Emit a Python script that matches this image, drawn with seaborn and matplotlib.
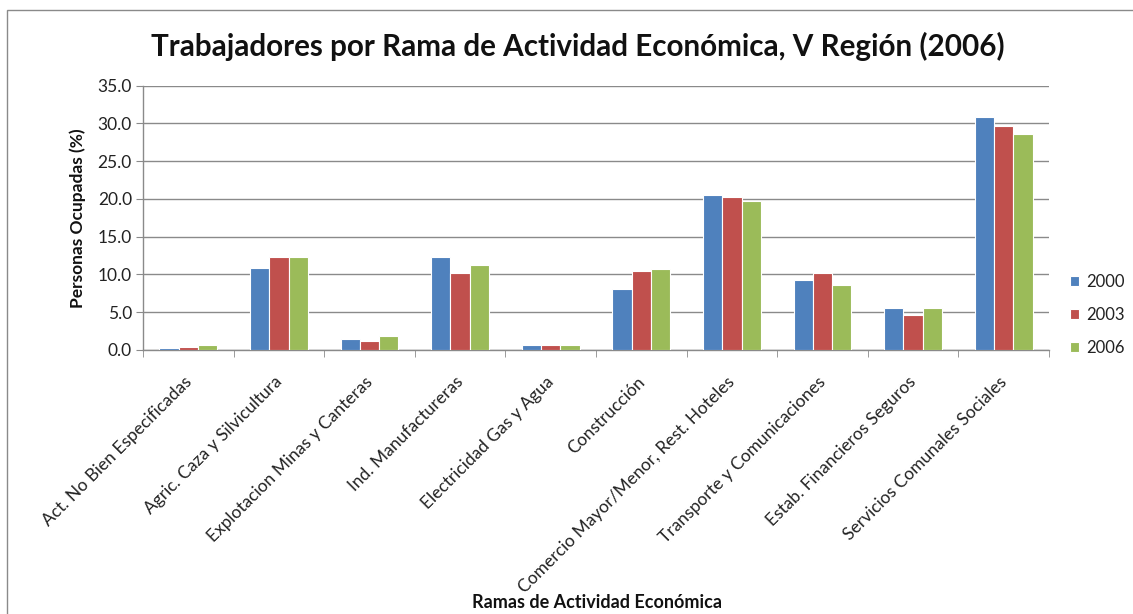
import pandas as pd
import numpy as np
import seaborn as sns
import matplotlib.pyplot as plt
from matplotlib.ticker import FormatStrFormatter, FixedLocator
from matplotlib.patches import Rectangle
from matplotlib.transforms import ScaledTranslation

ramas = ['Act. No Bien Especificadas', 'Agric. Caza y Silvicultura',
         'Explotacion Minas y Canteras', 'Ind. Manufactureras',
         'Electricidad Gas y Agua', 'Construcción',
         'Comercio Mayor/Menor, Rest. Hoteles', 'Transporte y Comunicaciones',
         'Estab. Financieros Seguros', 'Servicios Comunales Sociales']
years = ['2000', '2003', '2006']
v2000 = [0.2, 10.9, 1.4, 12.3, 0.6, 8.1, 20.5, 9.3, 5.6, 30.9]
v2003 = [0.4, 12.3, 1.2, 10.2, 0.6, 10.4, 20.3, 10.2, 4.6, 29.6]
v2006 = [0.7, 12.3, 1.8, 11.2, 0.6, 10.7, 19.7, 8.6, 5.6, 28.6]
colores = ['#4F81BD', '#C0504D', '#9BBB59']

# long format for seaborn
df = pd.DataFrame({
    'rama': ramas * 3,
    'year': np.repeat(years, len(ramas)),
    'pct': v2000 + v2003 + v2006,
})

sns.set_style('white')
plt.rcParams['font.family'] = ['Lato', 'DejaVu Sans']

W, H = 1133, 614
fig = plt.figure(figsize=(W / 100, H / 100), dpi=100)
ax = fig.add_axes([143 / W, 1 - 350 / H, 906 / W, (350 - 85.6) / H])

sns.barplot(data=df, x='rama', y='pct', hue='year', palette=colores,
            width=0.64, edgecolor='white', linewidth=0.8, saturation=1,
            ax=ax, zorder=3)

gris = '#8a8a8a'
ax.set_ylim(0, 35)
ax.set_xlim(-0.5, len(ramas) - 0.5)
ax.yaxis.set_major_formatter(FormatStrFormatter('%.1f'))
ax.set_yticks(np.arange(0, 35.1, 5))
ax.grid(axis='y', color=gris, linewidth=1, zorder=0)
ax.set_axisbelow(True)

for s in ['top', 'right']:
    ax.spines[s].set_visible(False)
for s in ['left', 'bottom']:
    ax.spines[s].set_color(gris)
    ax.spines[s].set_linewidth(1)

# ticks at category boundaries
ax.set_xticks(np.arange(len(ramas)))
ax.xaxis.set_minor_locator(FixedLocator(np.arange(-0.5, len(ramas), 1)))
ax.tick_params(axis='x', which='major', length=0, pad=17)
ax.tick_params(axis='x', which='minor', length=5, color=gris, direction='out', bottom=True)
ax.tick_params(axis='y', length=5, color=gris, direction='out', left=True,
               labelsize=12.5, labelcolor='#222222', pad=3)
ax.set_xticklabels(ramas, rotation=45, ha='right', rotation_mode='anchor',
                   fontsize=12.5, color='#222222')
shift = ScaledTranslation(-0.05, 0, fig.dpi_scale_trans)
for lbl in ax.get_xticklabels():
    lbl.set_transform(lbl.get_transform() + shift)

ax.set_xlabel('')
ax.set_ylabel('Personas Ocupadas (%)', fontsize=12.5, fontweight='bold',
              labelpad=8, color='#111111')

handles, labels = ax.get_legend_handles_labels()
ax.legend(handles, labels, loc='center left', bbox_to_anchor=((1070 - 143) / 906, (350 - 315) / 264.4),
          frameon=False, fontsize=12, handlelength=0.55, handleheight=0.55,
          handletextpad=0.45, labelspacing=1.0, borderaxespad=0, borderpad=0,
          labelcolor='#222222')

fig.suptitle('Trabajadores por Rama de Actividad Económica, V Región (2006)',
             x=578 / W, y=1 - 46 / H, va='center', fontsize=21.3,
             fontweight='bold', color='#111111')
fig.text(597 / W, 1 - 602 / H, 'Ramas de Actividad Económica',
         ha='center', va='center', fontsize=13, fontweight='bold', color='#111111')

fig.patches.append(Rectangle((7 / W, -0.05), 1.0, 1 - 10 / H + 0.05,
                             transform=fig.transFigure, fill=False,
                             edgecolor=gris, linewidth=1))

fig.savefig('out.png', dpi=100, facecolor='white')
